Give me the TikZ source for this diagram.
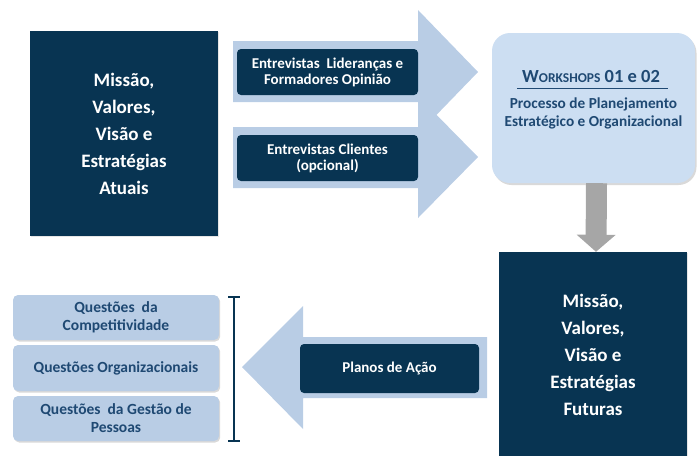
\documentclass[tikz,border=0pt]{standalone}
\usepackage{fontspec}
\setmainfont{Carlito}
\usetikzlibrary{positioning, arrows.meta, shadows}
\definecolor{navy}{RGB}{8,52,82}
\definecolor{paleblue}{RGB}{185,205,229}
\definecolor{skyblue}{RGB}{204,222,242}
\definecolor{inkblue}{RGB}{31,73,115}
\definecolor{arrowgray}{RGB}{166,166,166}

\begin{document}
\begin{tikzpicture}[x=1pt, y=-1pt,
    bigbox/.style={rectangle, fill=navy, text=white, align=center, inner sep=0pt,
        minimum width=188pt, minimum height=205pt,
        font=\bfseries\fontsize{19}{27}\selectfont,
        drop shadow={opacity=0.2, shadow xshift=1pt, shadow yshift=-1pt}},
    tag/.style={rectangle, rounded corners=4pt, fill=navy, text=white, align=center,
        inner sep=0pt, minimum width=181pt, minimum height=46pt,
        font=\bfseries\fontsize{15}{16}\selectfont},
    issue/.style={rectangle, rounded corners=5pt, fill=paleblue, text=inkblue, align=center,
        inner sep=0pt, minimum width=206pt, minimum height=45pt,
        font=\bfseries\fontsize{15.5}{18}\selectfont,
        drop shadow={opacity=0.3, shadow xshift=1.2pt, shadow yshift=-1.5pt}}]
    \useasboundingbox (0,0) rectangle (700,455);

    % block arrows
    \fill[paleblue] (233,41) -- (418,41) -- (418,10) -- (478,72) -- (418,134)
        -- (418,102) -- (233,102) -- cycle;
    \fill[paleblue] (233,127) -- (418,127) -- (418,96) -- (478,157) -- (418,218)
        -- (418,188) -- (233,188) -- cycle;
    \fill[paleblue] (487,337) -- (303,337) -- (303,306) -- (242,367) -- (303,429)
        -- (303,398) -- (487,398) -- cycle;

    \node[bigbox] (atuais) at (124,133.5) {Missão,\\Valores,\\Visão e\\Estratégias\\Atuais};
    \node[tag] (lideres) at (327.5,72) {Entrevistas~ Lideranças e\\Formadores Opinião};
    \node[tag] (clientes) at (327.5,158) {Entrevistas Clientes\\(opcional)};

    \node[rectangle, rounded corners=18pt, fill=skyblue, minimum width=203pt, minimum height=150pt,
        drop shadow={opacity=0.3, shadow xshift=1.5pt, shadow yshift=-2pt}] (ws) at (593.5,108) {};
    \node[text=inkblue, font=\bfseries\fontsize{18.5}{20}\selectfont] (wshead) at (591,77)
        {W{\fontsize{13.5}{16}\selectfont ORKSHOPS} 01 e 02};
    \draw[inkblue, line width=0.8pt] (517,88) -- (668,88);
    \node[text=inkblue, align=center, font=\bfseries\fontsize{15.3}{18}\selectfont] (wsbody) at (593.5,113)
        {Processo de Planejamento\\Estratégico e Organizacional};

    \node[bigbox] (futuras) at (593,354.5) {Missão,\\Valores,\\Visão e\\Estratégias\\Futuras};
    \draw[arrowgray, line width=21pt, -{Triangle[width=38pt, length=17pt]}]
        ([xshift=3pt]ws.south) -- ([xshift=3pt]futuras.north);

    \node[tag, minimum width=179pt, minimum height=49pt] (acao) at (389.5,368.5) {Planos de Ação};

    \node[issue] (q1) at (116,317.5) {Questões~ da\\Competitividade};
    \node[issue, minimum height=46pt] (q2) at (116,368) {Questões Organizacionais};
    \node[issue] (q3) at (116,418.5) {Questões~ da Gestão de\\Pessoas};

    % bracket
    \draw[navy, line width=1.5pt] (228,297) -- (240,297) (234,297) -- (234,441) (228,441) -- (240,441);
\end{tikzpicture}
\end{document}
